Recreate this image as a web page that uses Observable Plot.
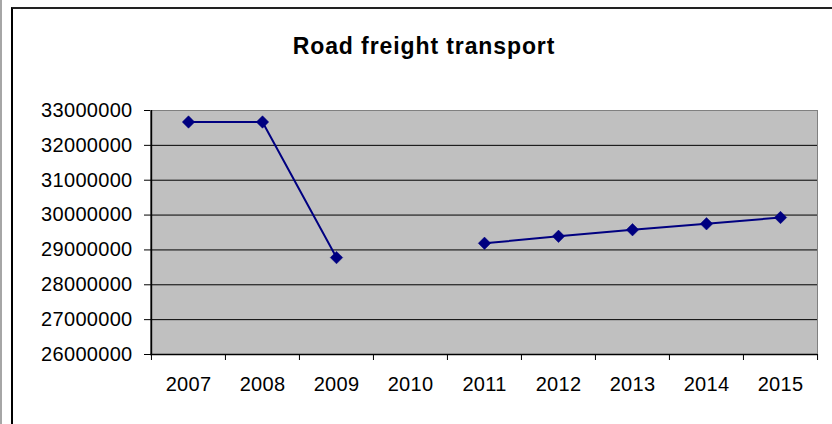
<!DOCTYPE html>
<html><head><meta charset="utf-8">
<script src="https://cdn.jsdelivr.net/npm/d3@7"></script>
<script src="https://cdn.jsdelivr.net/npm/@observablehq/plot@0.6"></script>
<style>
body{margin:0;background:#fff;}
#wrap{position:relative;width:832px;height:424px;overflow:hidden;font-family:"Liberation Sans",Arial,sans-serif;background:#fff;}
#chart{position:absolute;left:0;top:0;}
#edge{position:absolute;left:0;top:0;width:2px;height:424px;background:#a6a6a6;}
#box{position:absolute;left:11px;top:7px;width:860px;height:460px;border-left:2px solid #000;border-top:2px solid #222;}
#title{position:absolute;left:0;width:848px;top:35px;line-height:23px;text-align:center;font-weight:bold;font-size:23px;letter-spacing:0.9px;color:#000;}
</style>
</head><body>
<div id="wrap">
  <div id="chart"></div>
  <div id="edge"></div>
  <div id="box"></div>
  <div id="title">Road freight transport</div>
</div>
<script>
const years = ["2007","2008","2009","2010","2011","2012","2013","2014","2015"];
const freight = [32670000, 32670000, 28780000, null, 29190000, 29390000, 29580000, 29750000, 29930000];
const yTicks = [26000000, 27000000, 28000000, 29000000, 30000000, 31000000, 32000000, 33000000];
const titleText = "Road freight transport";

const data = years.map((year, i) => ({year, value: freight[i]}));
const W = 832, H = 424, mL = 150, mR = 15, mT = 110, mB = 70;
const bw = (W - mL - mR) / years.length;
const navy = "#000080";

const chart = Plot.plot({
  width: W, height: H,
  marginLeft: mL, marginRight: mR, marginTop: mT, marginBottom: mB,
  style: {fontFamily: '"Liberation Sans", Arial, sans-serif', fontSize: "20px", letterSpacing: "0.3px", color: "#000", background: "transparent"},
  x: {type: "band", domain: years, padding: 0, label: null},
  y: {domain: [yTicks[0], yTicks[yTicks.length - 1]], label: null},
  marks: [
    Plot.frame({fill: "#c0c0c0", stroke: "#808080"}),
    Plot.ruleY(yTicks.filter(t => t > yTicks[0] && t < yTicks[yTicks.length - 1]), {stroke: "#000", strokeWidth: 1}),
    Plot.ruleY([yTicks[0]], {stroke: "#000", strokeWidth: 1.5}),
    Plot.ruleX([years[0]], {dx: -bw / 2, stroke: "#000", strokeWidth: 1.5}),
    Plot.axisY(yTicks, {tickSize: 6, tickPadding: 12, tickFormat: d3.format("d"), stroke: "#000"}),
    Plot.axisX({tickSize: 0, tickPadding: 22}),
    Plot.axisX(years, {tickSize: 6, dx: -bw / 2, tickFormat: () => "", stroke: "#000"}),
    Plot.axisX([years[years.length - 1]], {tickSize: 6, dx: bw / 2, tickFormat: () => "", stroke: "#000"}),
    Plot.line(data, {x: "year", y: "value", stroke: navy, strokeWidth: 2}),
    Plot.dot(data.filter(d => d.value != null), {x: "year", y: "value", symbol: "diamond2", fill: navy, stroke: navy, strokeWidth: 0.5, r: 5.6})
  ]
});
document.getElementById("chart").appendChild(chart);
document.getElementById("title").textContent = titleText;
</script>
</body></html>
